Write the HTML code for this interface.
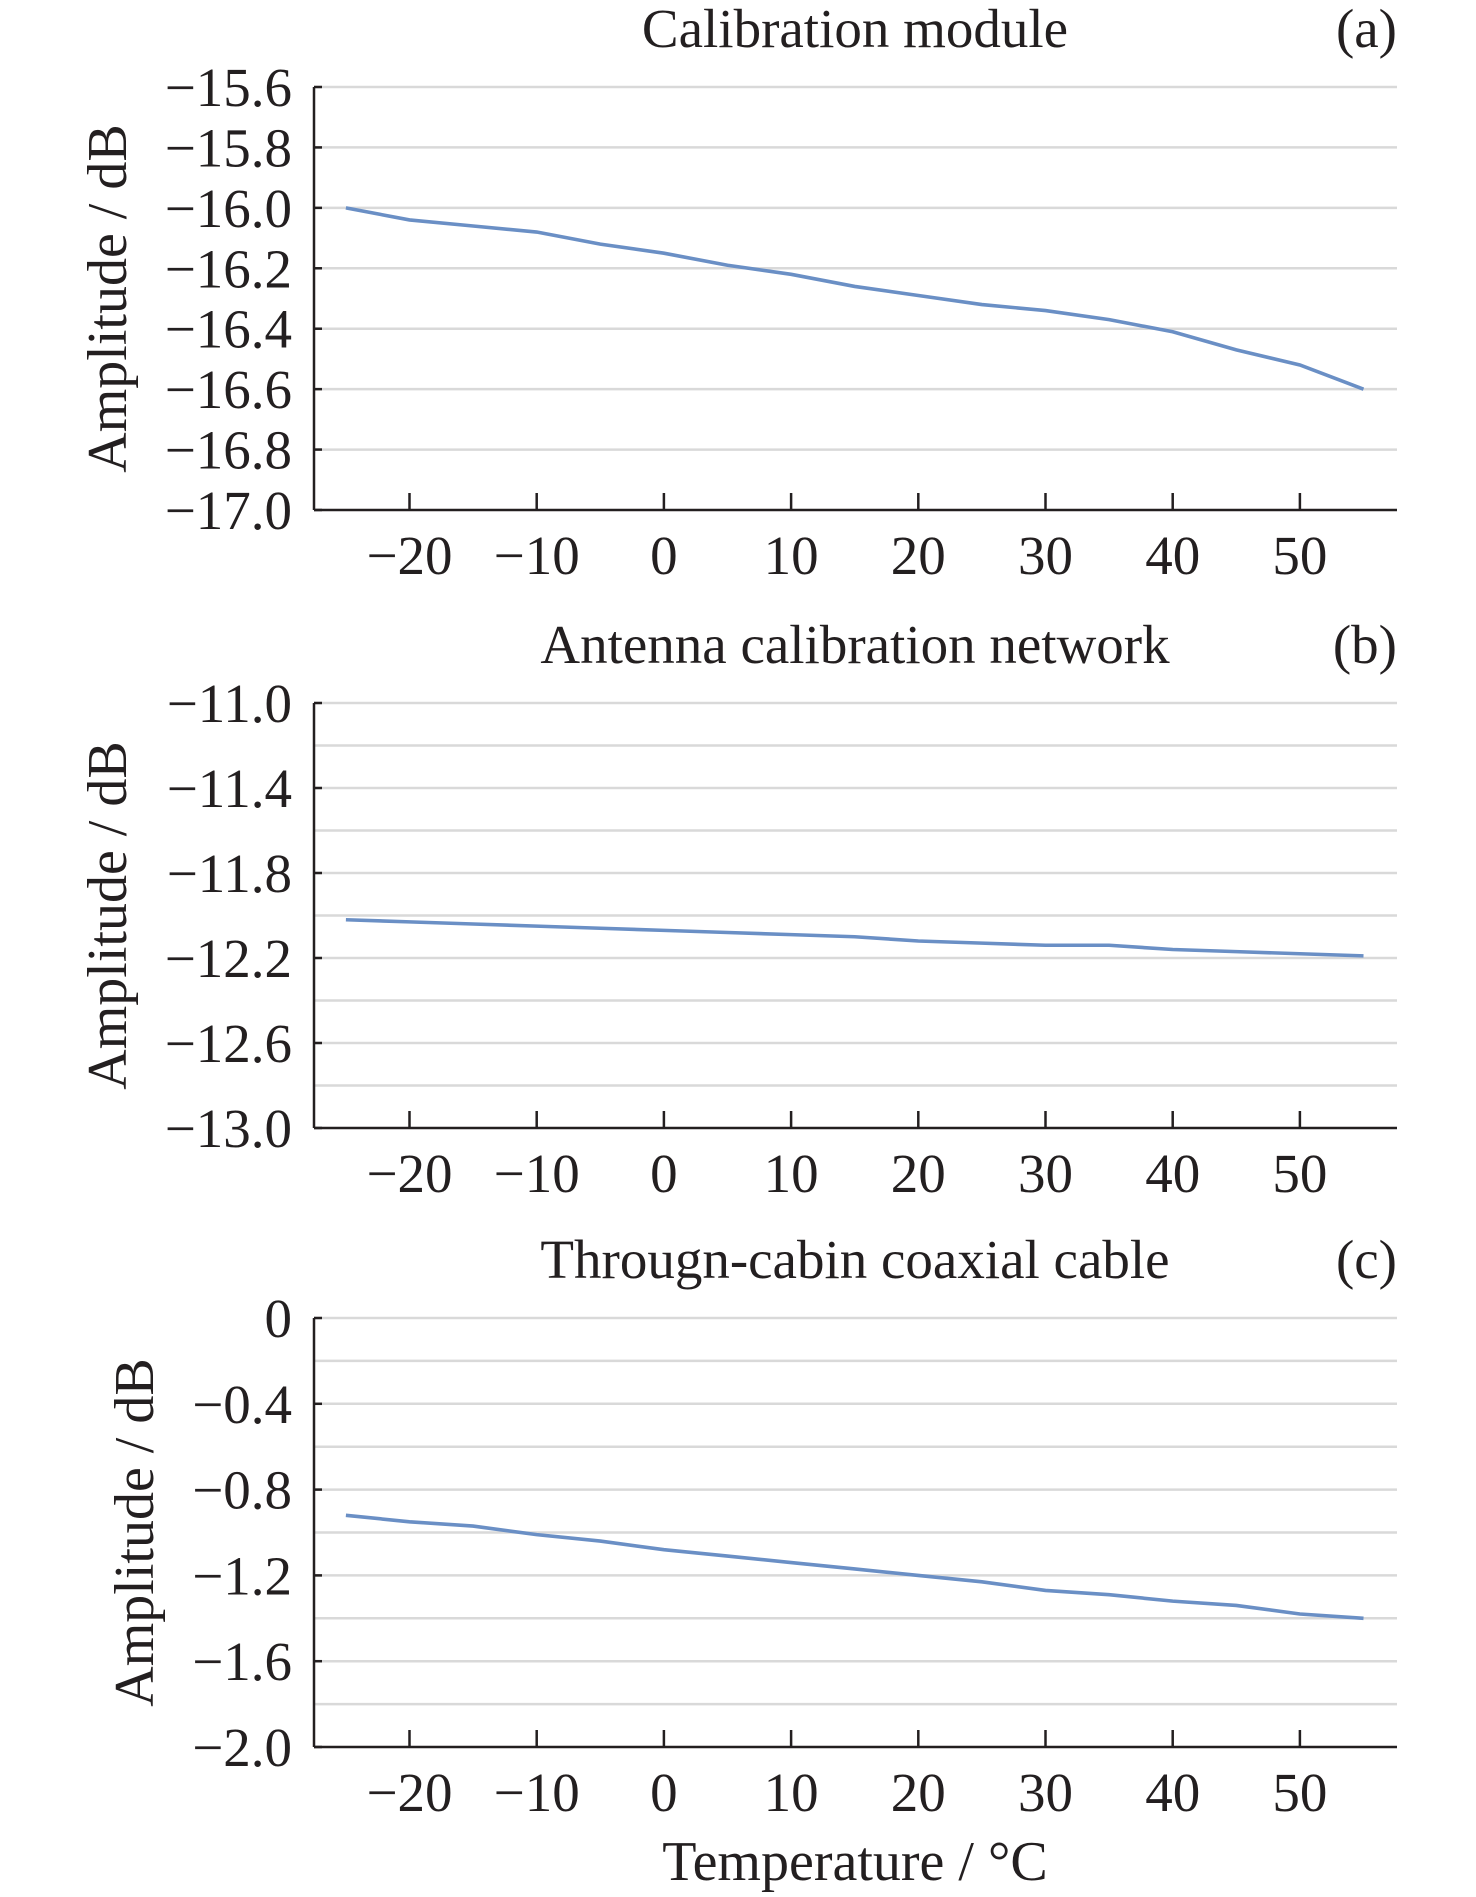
<!DOCTYPE html>
<html><head><meta charset="utf-8"><style>
html,body{margin:0;padding:0;background:#fff;}
svg{display:block;font-family:"Liberation Serif",serif;}
</style></head><body>
<svg id="c" width="1476" height="1897" viewBox="0 0 1476 1897"></svg>
<script>
const temps=[-25,-20,-15,-10,-5,0,5,10,15,20,25,30,35,40,45,50,55];
const xTicks=[-20,-10,0,10,20,30,40,50];
const seriesA=[-16.0,-16.04,-16.06,-16.08,-16.12,-16.15,-16.19,-16.22,-16.26,-16.29,-16.32,-16.34,-16.37,-16.41,-16.47,-16.52,-16.6];
const seriesB=[-12.02,-12.03,-12.04,-12.05,-12.06,-12.07,-12.08,-12.09,-12.10,-12.12,-12.13,-12.14,-12.14,-12.16,-12.17,-12.18,-12.19];
const seriesC=[-0.92,-0.95,-0.97,-1.01,-1.04,-1.08,-1.11,-1.14,-1.17,-1.20,-1.23,-1.27,-1.29,-1.32,-1.34,-1.38,-1.40];
const ticksA=[-15.6,-15.8,-16.0,-16.2,-16.4,-16.6,-16.8,-17.0];
const gridA=[-15.6,-15.8,-16.0,-16.2,-16.4,-16.6,-16.8];
const ticksB=[-11.0,-11.4,-11.8,-12.2,-12.6,-13.0];
const gridB=[-11.0,-11.2,-11.4,-11.6,-11.8,-12.0,-12.2,-12.4,-12.6,-12.8];
const ticksC=[0,-0.4,-0.8,-1.2,-1.6,-2.0];
const gridC=[0,-0.2,-0.4,-0.6,-0.8,-1.0,-1.2,-1.4,-1.6,-1.8];
const NS="http://www.w3.org/2000/svg";
const svg=document.getElementById('c');
function mk(t,a,p){const e=document.createElementNS(NS,t);for(const k in a)e.setAttribute(k,a[k]);(p||svg).appendChild(e);return e;}
const X0=314,X1=1397;
function xs(v){return 409.5+(v+20)*12.72;}
function fmt(v,d){const s=Math.abs(v).toFixed(d);return (v<0?"\u2212":"")+s;}
function panel(id,top,bot,ymax,ymin,ticks,grid,dec,data,title,letter,ylx){
  const g=mk('g',{});
  
  
  const ys=v=>top+(ymax-v)/(ymax-ymin)*(bot-top);
  grid.forEach(v=>{const l=mk('line',{x1:X0,x2:X1,y1:ys(v),y2:ys(v),stroke:'#d9d9d9','stroke-width':2.5},g);
    
    });
  ticks.forEach(v=>{const t=mk('text',{x:292,y:ys(v)+19,'text-anchor':'end','font-size':55,fill:'#231f20'},g);t.textContent=fmt(v,(v===0?0:dec));
    
    
    const tk=mk('line',{x1:X0,x2:X0+8,y1:ys(v),y2:ys(v),stroke:'#231f20','stroke-width':2.5},g);
    
    });
  const ya=mk('line',{x1:X0,x2:X0,y1:top,y2:bot,stroke:'#231f20','stroke-width':2.5},g);
  
  
  const xa=mk('line',{x1:X0,x2:X1,y1:bot,y2:bot,stroke:'#231f20','stroke-width':2.5},g);
  
  
  xTicks.forEach(v=>{const l=mk('line',{x1:xs(v),x2:xs(v),y1:bot,y2:bot-17,stroke:'#231f20','stroke-width':2.5},g);
    
    
    const t=mk('text',{x:xs(v),y:bot+64,'text-anchor':'middle','font-size':55,fill:'#231f20'},g);t.textContent=fmt(v,0);
    
    });
  const p=mk('polyline',{points:temps.map((t,i)=>xs(t)+','+ys(data[i])).join(' '),fill:'none',stroke:'#6a8fc5','stroke-width':3.6},g);
  
  
  const tt=mk('text',{x:855,y:top-40,'text-anchor':'middle','font-size':55,fill:'#231f20'},g);tt.textContent=title;
  
  
  const lt=mk('text',{x:1397,y:top-40,'text-anchor':'end','font-size':55,fill:'#231f20'},g);lt.textContent=letter;
  
  
  const cy=(top+bot)/2;
  const yl=mk('text',{x:ylx,y:cy,'text-anchor':'middle','font-size':56,fill:'#231f20',transform:'rotate(-90 '+ylx+' '+cy+')'},g);yl.textContent='Amplitude / dB';
  
  
}
panel('a',87,510,-15.6,-17.0,ticksA,gridA,1,seriesA,'Calibration module','(a)',126);
panel('b',703,1128,-11.0,-13.0,ticksB,gridB,1,seriesB,'Antenna calibration network','(b)',126);
panel('c',1318,1747,0,-2.0,ticksC,gridC,1,seriesC,'Througn-cabin coaxial cable','(c)',153);
const xt=mk('text',{x:855,y:1880,'text-anchor':'middle','font-size':56,fill:'#231f20'});xt.textContent='Temperature / \u00B0C';


</script>
</body></html>
